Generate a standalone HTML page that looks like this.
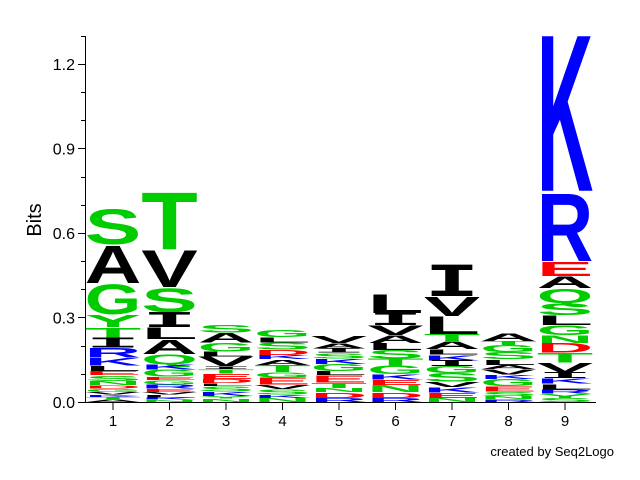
<!DOCTYPE html>
<html><head><meta charset="utf-8"><style>
body{margin:0;background:#fff}
svg{display:block}
</style></head><body>
<svg id="chart" width="640" height="480" viewBox="0 0 640 480" font-family="Liberation Sans, sans-serif">
<g id="axes"></g>
<g id="marks"></g>
<text x="41" y="220" transform="rotate(-90 41 220)" text-anchor="middle" font-size="20">Bits</text>
<text x="614" y="456" text-anchor="end" font-size="13">created by Seq2Logo</text>
</svg>
<script>
const positions = ["1","2","3","4","5","6","7","8","9"];
const yTicks = [0.0,0.3,0.6,0.9,1.2];
const yTickLabels = ["0.0","0.3","0.6","0.9","1.2"];
// letters per column, listed top to bottom, with heights in bits
const col1Letters = ["S","A","G","Y","T","I","R","K","L","E","S","N","D","G","V","K","T","A"];
const col1Bits = [0.13,0.138,0.11,0.046,0.039,0.035,0.035,0.028,0.02,0.015,0.02,0.015,0.012,0.012,0.01,0.008,0.008,0.01];
const col2Letters = ["T","V","S","I","L","A","Q","K","G","E","G","R","E","V","L","K","N"];
const col2Bits = [0.21,0.135,0.089,0.053,0.043,0.053,0.035,0.02,0.025,0.012,0.015,0.015,0.012,0.01,0.01,0.008,0.008];
const col3Letters = ["S","A","G","L","V","I","T","E","D","L","S","K","Y","N"];
const col3Bits = [0.028,0.035,0.032,0.018,0.035,0.01,0.015,0.02,0.015,0.01,0.02,0.015,0.01,0.012];
const col4Letters = ["G","L","S","D","K","A","T","G","E","V","S","K","N"];
const col4Bits = [0.025,0.018,0.025,0.02,0.015,0.02,0.025,0.02,0.025,0.015,0.02,0.012,0.015];
const col5Letters = ["V","A","I","S","K","G","L","E","T","N","D","R"];
const col5Bits = [0.025,0.02,0.015,0.02,0.02,0.025,0.015,0.025,0.02,0.015,0.02,0.015];
const col6Letters = ["L","I","V","A","L","S","T","G","K","E","N","D","R"];
const col6Bits = [0.07,0.043,0.035,0.028,0.025,0.03,0.025,0.03,0.02,0.02,0.025,0.02,0.015];
const col7Letters = ["I","V","L","T","A","L","K","I","G","S","V","K","E","N"];
const col7Bits = [0.11,0.071,0.064,0.025,0.028,0.02,0.02,0.02,0.025,0.03,0.02,0.02,0.018,0.015];
const col8Letters = ["A","T","G","S","L","A","V","K","G","E","S","N","R"];
const col8Bits = [0.028,0.015,0.025,0.025,0.02,0.015,0.02,0.015,0.025,0.02,0.015,0.012,0.01];
const col9Letters = ["K","R","E","A","Q","S","L","G","N","D","T","V","I","K","L","R","Y","S"];
const col9Bits = [0.578,0.25,0.053,0.043,0.053,0.043,0.035,0.035,0.028,0.035,0.035,0.035,0.02,0.02,0.02,0.015,0.015,0.015];
const columns = [
  [col1Letters,col1Bits],[col2Letters,col2Bits],[col3Letters,col3Bits],
  [col4Letters,col4Bits],[col5Letters,col5Bits],[col6Letters,col6Bits],
  [col7Letters,col7Bits],[col8Letters,col8Bits],[col9Letters,col9Bits]
];
const NS="http://www.w3.org/2000/svg";
const x0=85, y0=402, pxPerBit=281.7, colW=56.5, firstX=113;
const yScale=v=>y0-v*pxPerBit;
const xScale=i=>firstX+i*colW;
function colorOf(l){
  if("KRH".includes(l)) return "#0000ff";
  if("DE".includes(l)) return "#ff0000";
  if("STGYQNC".includes(l)) return "#00cc00";
  return "#000000";
}
const axes=document.getElementById('axes');
function line(x1,y1,x2,y2,name){
  const e=document.createElementNS(NS,'line');
  e.setAttribute('x1',x1);e.setAttribute('y1',y1);e.setAttribute('x2',x2);e.setAttribute('y2',y2);
  e.setAttribute('stroke','#000');e.setAttribute('stroke-width','1');
  
  
  axes.appendChild(e);return e;
}
line(x0+0.5,36,x0+0.5,y0+1,'y-axis-line');
line(x0,y0+0.5,596,y0+0.5,'x-axis-line');
for(let v=0;v<=1.3001;v+=0.1){
  const y=Math.round(yScale(v))+0.5;
  const major=yTicks.some(t=>Math.abs(t-v)<1e-6);
  line(major?x0-7:x0-4,y,x0,y,'y-tick');
}
yTicks.forEach((t,i)=>{
  const e=document.createElementNS(NS,'text');
  e.setAttribute('x',x0-10);e.setAttribute('y',yScale(t)+6);
  e.setAttribute('text-anchor','end');e.setAttribute('font-size','16');
  e.textContent=yTickLabels[i];
  
  
  axes.appendChild(e);
});
positions.forEach((p,i)=>{
  const x=xScale(i);
  line(x,y0+1,x,y0+8,'x-tick');
  const e=document.createElementNS(NS,'text');
  e.setAttribute('x',x);e.setAttribute('y',y0+24);
  e.setAttribute('text-anchor','middle');e.setAttribute('font-size','15');
  e.textContent=p;
  
  
  axes.appendChild(e);
});
const marks=document.getElementById('marks');
const capH=72.5;
columns.forEach((c,i)=>{
  const letters=c[0], bits=c[1];
  let total=bits.reduce((a,b)=>a+b,0);
  let top=total;
  const left=xScale(i)-colW/2;
  letters.forEach((l,j)=>{
    const h=bits[j]*pxPerBit;
    const bottom=yScale(top-bits[j]);
    top-=bits[j];
    const g=document.createElementNS(NS,'g');
    const isI = l==="I";
    const ch = isI ? 72.9 : capH;
    g.setAttribute('transform',`translate(${left},${bottom}) scale(1,${h/ch})`);
    const t=document.createElementNS(NS,'text');
    t.setAttribute('x',0);t.setAttribute('y',0);
    t.setAttribute('font-size','100');t.setAttribute('font-weight','bold');
    if(isI) t.setAttribute('font-family','DejaVu Sans Mono, monospace');
    t.setAttribute('textLength',colW);t.setAttribute('lengthAdjust','spacingAndGlyphs');
    t.setAttribute('fill',colorOf(l));
    t.textContent=l;
    
    
    g.appendChild(t);
    marks.appendChild(g);
  });
});
</script>
</body></html>
